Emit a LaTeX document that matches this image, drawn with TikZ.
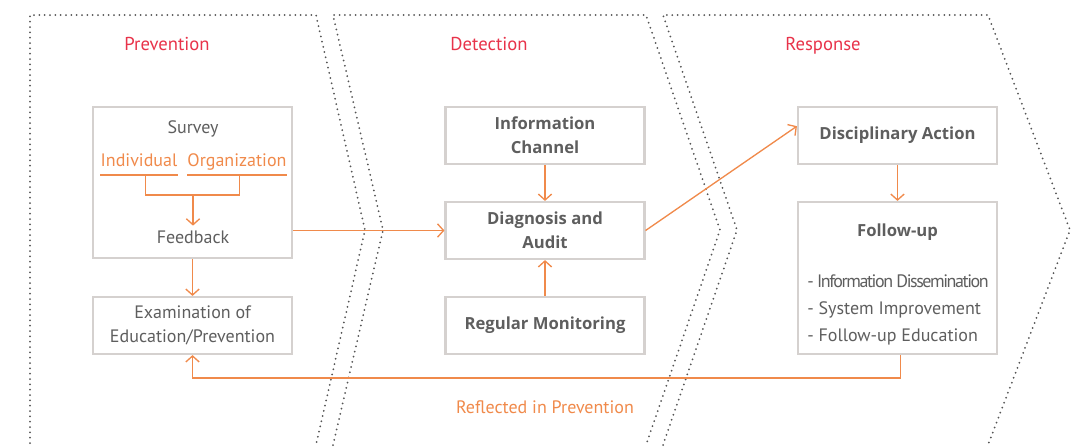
\documentclass[tikz,border=0pt]{standalone}
\usepackage{fontspec}
\setmainfont{PT Sans}
\newfontfamily\headfont{Open Sans}
\usetikzlibrary{arrows.meta}
\definecolor{flowor}{HTML}{F08A4B}
\definecolor{stagered}{HTML}{E8334A}
\definecolor{textgray}{HTML}{5E5E5E}
\definecolor{boxgray}{HTML}{D5D1CF}
\definecolor{dotgray}{HTML}{555555}

\tikzset{
  stage/.style={dotgray,line width=1.5pt,line cap=round,dash pattern=on 0pt off 4pt},
  stagetitle/.style={stagered,text height=10pt,text depth=3pt,font=\fontsize{14}{16}\selectfont},
  box/.style={draw=boxgray,line width=1.6pt,minimum width=149.25pt,minimum height=42.75pt,
    text=textgray,align=center,font=\fontsize{13.5}{18}\selectfont},
  hbox/.style={box,font=\headfont\bfseries\fontsize{12.5}{18}\selectfont},
  plain/.style={text=textgray,text height=10pt,text depth=3pt,font=\fontsize{13.5}{15}\selectfont},
  flow/.style={flowor,line width=1pt,-{Straight Barb[length=4.5pt,width=10pt]}},
  link/.style={flowor,line width=1.1pt}
}

\begin{document}
\begin{tikzpicture}[x=0.75pt,y=-0.75pt]
  \useasboundingbox (0,0) rectangle (1085,447);
  % stages
  \draw[stage] (30,443) -- (30,15) -- (316,15) -- (365,230) -- (316,445);
  \draw[stage] (333,445) -- (383,230) -- (333,15) -- (646,15) -- (720,230) -- (646,445);
  \draw[stage] (663,445) -- (737,230) -- (663,15) -- (988,15) -- (1070,230) -- (988,445);
  \node[stagetitle] (prev) at (167,46) {Prevention};
  \node[stagetitle] (detect) at (489,46) {Detection};
  \node[stagetitle] (resp) at (823,46) {Response};

  % prevention
  \node[box,minimum height=113.25pt] (survey) at (192.5,182.5) {};
  \node[box] (exam) at (192.5,325.5) {Examination of\\Education/Prevention};
  \node[plain] (surveytxt) at (193,129) {Survey};
  \node[plain,text=flowor,inner xsep=0pt,inner ysep=3pt] (ind) at (139,162) {Individual};
  \node[plain,text=flowor,inner xsep=0pt,inner ysep=3pt] (org) at (237,162) {Organization};
  \node[plain] (fb) at (193,239) {Feedback};
  \coordinate (join) at (193,195);
  \draw[link] (ind.south west) -- (ind.south east);
  \draw[link] (org.south west) -- (org.south east);
  \draw[link] ([xshift=5pt]ind.south) |- (join) -| ([xshift=2pt]org.south);
  \draw[flow] (join) -- (fb.north);

  % detection
  \node[hbox] (info) at (545,135.5) {Information\\Channel};
  \node[hbox] (diag) at (545,230.5) {Diagnosis and\\Audit};
  \node[hbox] (regmon) at (545,325.5) {Regular Monitoring};

  % response
  \node[hbox] (disc) at (897.5,135.5) {Disciplinary Action};
  \node[hbox,minimum height=114pt] (follow) at (897.5,278) {};
  \node[plain,font=\headfont\bfseries\fontsize{12.5}{15}\selectfont] (fuhead) at (897.5,232) {Follow-up};
  \node[plain,anchor=west,inner xsep=0pt,font=\fontsize{13.5}{15}\selectfont\addfontfeature{LetterSpace=-8}] (item1) at (807,283) {- Information Dissemination};
  \node[plain,anchor=west,inner xsep=0pt] (item2) at (807,310) {- System Improvement};
  \node[plain,anchor=west,inner xsep=0pt] (item3) at (807,337) {- Follow-up Education};

  % connectors
  \draw[flow] (survey.south) -- (exam.north);
  \draw[flow] (survey.east |- diag.west) -- (diag.west);
  \draw[flow] (info.south) -- (diag.north);
  \draw[flow] (regmon.north) -- (diag.south);
  \draw[flow] (diag.east) -- ([yshift=7pt]disc.west);
  \draw[flow] (disc.south) -- (follow.north);
  \coordinate (back) at (545,378);
  \draw[flow] ([xshift=2pt]follow.south) |- (back) -| (exam.south);
  \node[plain,text=flowor] (refl) at (545,409) {Reflected in Prevention};
\end{tikzpicture}
\end{document}
